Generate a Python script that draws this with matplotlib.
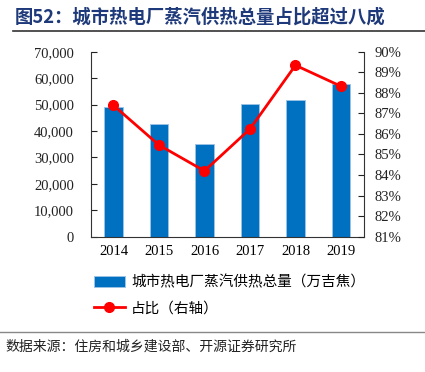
import matplotlib
matplotlib.use("Agg")
import numpy as np
from matplotlib import pyplot as plt
from matplotlib.lines import Line2D

plt.rcParams['font.family'] = ['Liberation Serif', 'Noto Sans CJK SC', 'DejaVu Sans']

years = ['2014', '2015', '2016', '2017', '2018', '2019']
steam_heat = [48900, 42500, 35100, 50200, 51800, 57700]   # 万吉焦
share = [87.39, 85.46, 84.20, 86.24, 89.34, 88.32]         # %

bar_label = '城市热电厂蒸汽供热总量（万吉焦）'
line_label = '占比（右轴）'
title = '图52：城市热电厂蒸汽供热总量占比超过八成'
source = '数据来源：住房和城乡建设部、开源证券研究所'

fig = plt.figure(figsize=(4.25, 3.72), dpi=100)
ax = fig.add_axes([0.2134, 0.3637, 0.6424, 0.4973])
x = np.arange(len(years))

bars = ax.bar(x, steam_heat, width=0.4, color='#0070C0', edgecolor='#9DC3E6',
              linewidth=0.6, label=bar_label, zorder=2)
ax.set_xlim(-0.5, len(years) - 0.5)
ax.set_ylim(0, 70000)
ax.set_yticks(np.arange(0, 70001, 10000))
ax.set_yticklabels(['{:,}'.format(v) for v in range(0, 70001, 10000)])
ax.set_xticks(x)
ax.set_xticklabels(years)
ax.tick_params(axis='y', direction='in', length=4, labelsize=10.5, pad=12, colors='#222222')
ax.tick_params(axis='x', length=0, labelsize=10.5, pad=6)
ax.spines['top'].set_visible(False)
ax.spines['right'].set_visible(False)
for s in ['left', 'bottom']:
    ax.spines[s].set_color('#333333')
    ax.spines[s].set_linewidth(0.8)

ax2 = ax.twinx()
ax2.plot(x, share, color='#FF0000', linewidth=2, marker='o', markersize=7, zorder=3)
ax2.set_ylim(81, 90)
ax2.set_yticks(np.arange(81, 91, 1))
ax2.set_yticklabels(['{}%'.format(v) for v in range(81, 91)])
ax2.tick_params(axis='y', direction='in', length=4, labelsize=10.5, pad=8, colors='#222222')
ax2.spines['top'].set_visible(False)
ax2.spines['left'].set_visible(False)
ax2.spines['bottom'].set_visible(False)
ax2.spines['right'].set_color('#333333')
ax2.spines['right'].set_linewidth(0.8)

handles = [bars,
           Line2D([], [], color='#FF0000', linewidth=2, marker='o', markersize=7)]
fig.legend(handles, [bar_label, line_label], loc='upper left',
           bbox_to_anchor=(0.19, 0.295), frameon=False, handlelength=2.1,
           handletextpad=0.45, labelspacing=0.8,
           prop={'family': ['Noto Sans CJK SC'], 'size': 10.5})

fig.text(0.035, 0.953, title, fontsize=13.2, fontweight='bold', color='#1F3A7A',
         family=['Noto Sans CJK SC'], va='center', ha='left')
fig.add_artist(Line2D([0.03, 1.0], [0.918, 0.918], color='#333333', linewidth=1.2))
fig.add_artist(Line2D([0.0, 1.0], [0.108, 0.108], color='#888888', linewidth=1.0))
fig.text(0.012, 0.068, source, fontsize=10, color='#222222',
         family=['Noto Sans CJK SC'], va='center', ha='left')

fig.savefig('out.png', dpi=100)
